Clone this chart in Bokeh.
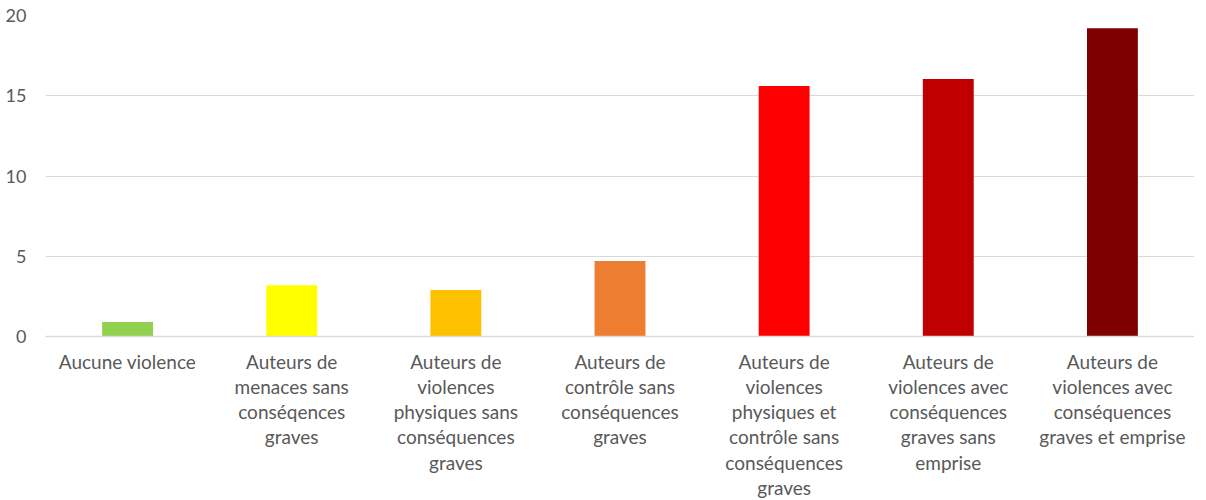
from bokeh.plotting import figure
from bokeh.models import FactorRange, Range1d, FixedTicker, ColumnDataSource
from bokeh.embed import file_html
from bokeh.resources import INLINE

categories = [
    "Aucune violence",
    "Auteurs de\nmenaces sans\nconséqences\ngraves",
    "Auteurs de\nviolences\nphysiques sans\nconséquences\ngraves",
    "Auteurs de\ncontrôle sans\nconséquences\ngraves",
    "Auteurs de\nviolences\nphysiques et\ncontrôle sans\nconséquences\ngraves",
    "Auteurs de\nviolences avec\nconséquences\ngraves sans\nemprise",
    "Auteurs de\nviolences avec\nconséquences\ngraves et emprise",
]
values = [0.9, 3.2, 2.9, 4.7, 15.6, 16.05, 19.2]
colors = ["#92D050", "#FFFF00", "#FFC000", "#ED7D31", "#FF0000", "#C00000", "#7F0000"]
y_ticks = [0, 5, 10, 15, 20]

FONT = "Lato"
TXT = "#595959"

src = ColumnDataSource(dict(cat=categories, val=values, col=colors))

p = figure(
    x_range=FactorRange(*categories, range_padding=0, factor_padding=0),
    y_range=Range1d(0, 20),
    frame_width=1149, frame_height=321,
    output_backend="svg", toolbar_location=None,
    min_border_left=45, min_border_right=0, min_border_top=15, min_border_bottom=0,
)
p.outline_line_color = None
p.background_fill_color = "white"
p.border_fill_color = "white"

p.vbar(x="cat", top="val", width=0.31, fill_color="col", line_color=None, source=src)

p.xgrid.grid_line_color = None
p.ygrid.grid_line_color = "#d9d9d9"
p.ygrid.grid_line_width = 1
p.ygrid.ticker = FixedTicker(ticks=y_ticks)

p.yaxis.ticker = FixedTicker(ticks=y_ticks)
p.yaxis.axis_line_color = None
p.yaxis.major_tick_line_color = None
p.yaxis.minor_tick_line_color = None
p.yaxis.major_label_standoff = 13
p.yaxis.major_label_text_font = FONT
p.yaxis.major_label_text_font_size = "18px"
p.yaxis.major_label_text_color = TXT

p.xaxis.axis_line_color = "#d9d9d9"
p.xaxis.axis_line_width = 1.5
p.xaxis.major_tick_line_color = None
p.xaxis.minor_tick_line_color = None
p.xaxis.major_label_standoff = 7
p.xaxis.major_label_text_font = FONT
p.xaxis.major_label_text_font_size = "19px"
p.xaxis.major_label_text_color = TXT
p.xaxis.major_label_text_line_height = 1.1
p.xaxis.major_label_orientation = "horizontal"

open("out.html", "w").write(file_html(p, INLINE))
